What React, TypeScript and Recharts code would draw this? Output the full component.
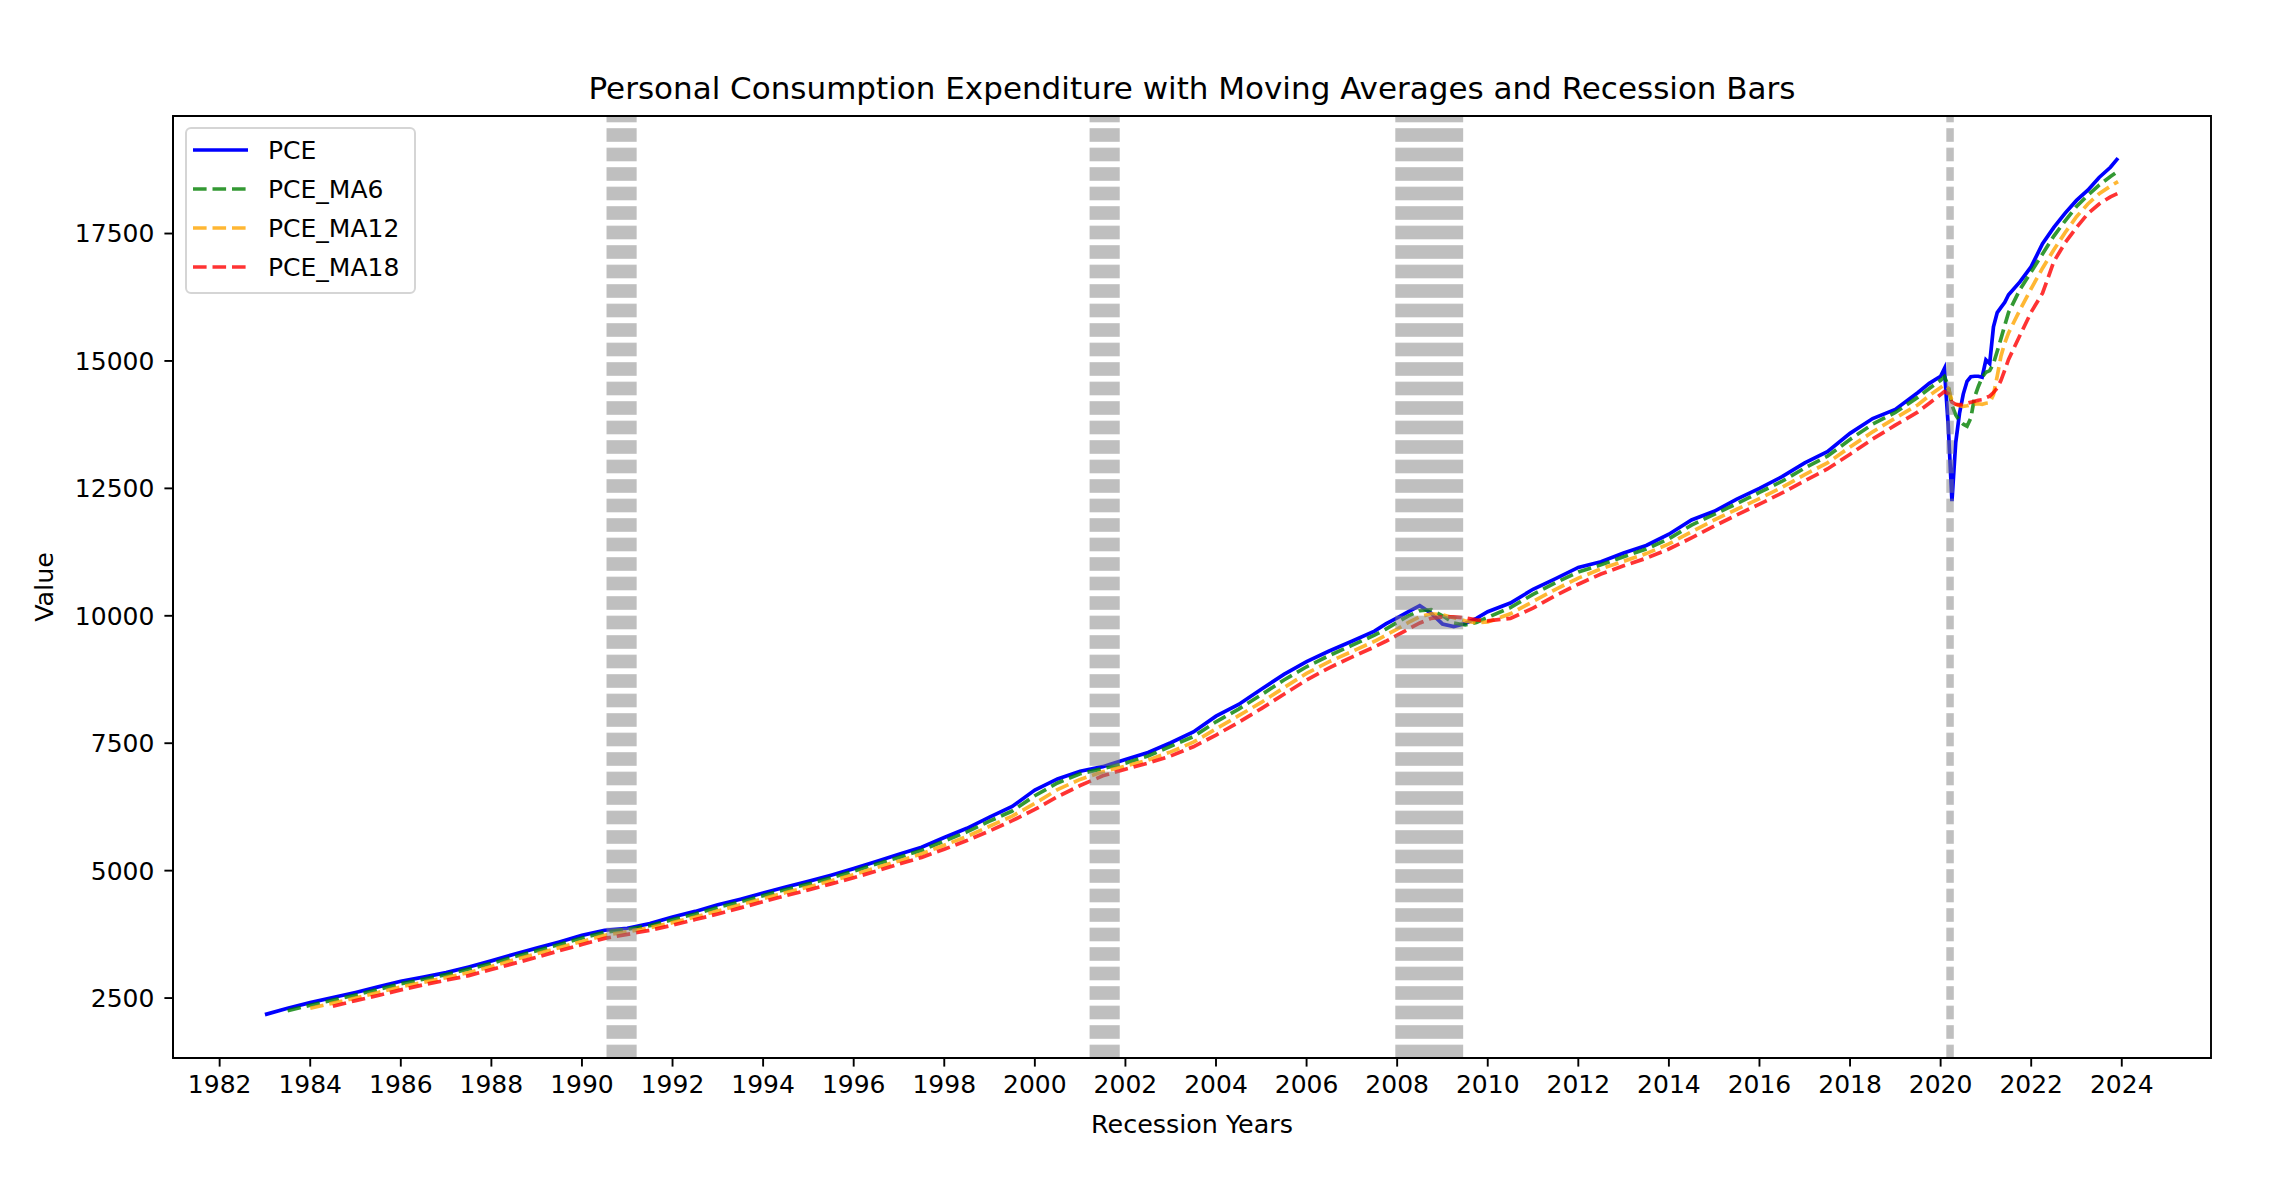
import React from "react";
import { LineChart, Line, XAxis, YAxis, ReferenceArea } from "recharts";

// sample dates (monthly PCE, denser around 2008 and 2020)
const DATES = [
  "1983-01", "1983-07", "1984-01", "1984-07", "1985-01", "1985-07", "1986-01", "1986-07",
  "1987-01", "1987-07", "1988-01", "1988-07", "1989-01", "1989-07", "1990-01", "1990-07",
  "1991-01", "1991-07", "1992-01", "1992-07", "1993-01", "1993-07", "1994-01", "1994-07",
  "1995-01", "1995-07", "1996-01", "1996-07", "1997-01", "1997-07", "1998-01", "1998-07",
  "1999-01", "1999-07", "2000-01", "2000-07", "2001-01", "2001-07", "2002-01", "2002-07",
  "2003-01", "2003-07", "2004-01", "2004-07", "2005-01", "2005-07", "2006-01", "2006-07",
  "2007-01", "2007-07", "2007-10", "2008-01", "2008-04", "2008-07", "2008-10", "2009-01",
  "2009-04", "2009-07", "2009-10", "2010-01", "2010-07", "2011-01", "2011-07", "2012-01",
  "2012-07", "2013-01", "2013-07", "2014-01", "2014-07", "2015-01", "2015-07", "2016-01",
  "2016-07", "2017-01", "2017-07", "2018-01", "2018-07", "2019-01", "2019-07", "2019-10",
  "2020-01", "2020-02", "2020-03", "2020-04", "2020-05", "2020-06", "2020-07", "2020-08",
  "2020-09", "2020-10", "2020-11", "2020-12", "2021-01", "2021-02", "2021-03", "2021-04",
  "2021-05", "2021-06", "2021-07", "2021-10", "2022-01", "2022-04", "2022-07", "2022-10",
  "2023-01", "2023-04", "2023-07", "2023-10", "2023-12",
];

const PCE = [
  2175, 2300, 2410, 2510, 2610, 2720, 2830, 2910,
  3000, 3110, 3230, 3360, 3480, 3600, 3730, 3830,
  3870, 3960, 4090, 4200, 4330, 4440, 4560, 4680,
  4790, 4910, 5040, 5180, 5320, 5460, 5650, 5830,
  6050, 6260, 6580, 6800, 6950, 7040, 7180, 7320,
  7510, 7720, 8030, 8260, 8560, 8850, 9100, 9310,
  9500, 9700, 9840, 9960, 10080, 10200, 10050, 9840,
  9790, 9850, 9950, 10080, 10250, 10520, 10730, 10950,
  11060, 11230, 11380, 11600, 11880, 12050, 12290, 12500,
  12730, 13000, 13220, 13580, 13870, 14050, 14380, 14560,
  14700, 14850, 13750, 12250, 13400, 13970, 14350, 14600,
  14690, 14700, 14700, 14680, 15020, 14950, 15670, 15950,
  16050, 16150, 16300, 16550, 16850, 17300, 17620, 17900,
  18150, 18350, 18600, 18800, 18980,
];

const PCE_MA6 = [
  null, 2250, 2360, 2460, 2560, 2670, 2780, 2870,
  2960, 3070, 3180, 3310, 3430, 3550, 3680, 3790,
  3850, 3920, 4040, 4150, 4280, 4390, 4510, 4630,
  4740, 4860, 4990, 5130, 5260, 5400, 5580, 5760,
  5970, 6170, 6470, 6720, 6900, 7000, 7110, 7250,
  7440, 7630, 7920, 8170, 8450, 8740, 9000, 9220,
  9420, 9620, 9740, 9870, 10000, 10100, 10120, 10000,
  9860, 9820, 9870, 9970, 10160, 10420, 10650, 10860,
  11000, 11160, 11310, 11510, 11780, 11990, 12200, 12420,
  12640, 12900, 13130, 13460, 13760, 13990, 14290, 14460,
  14620, 14690, 14520, 14130, 13940, 13830, 13760, 13720,
  13880, 14290, 14500, 14680, 14780, 14810, 14950, 15190,
  15440, 15700, 15950, 16400, 16750, 17100, 17450, 17750,
  18030, 18250, 18450, 18620, 18720,
];

const PCE_MA12 = [
  null, null, 2300, 2400, 2500, 2610, 2720, 2810,
  2900, 3000, 3120, 3250, 3370, 3490, 3610, 3730,
  3800, 3880, 3980, 4090, 4210, 4330, 4450, 4570,
  4680, 4800, 4920, 5060, 5190, 5330, 5500, 5670,
  5870, 6070, 6320, 6590, 6790, 6940, 7050, 7170,
  7330, 7520, 7780, 8040, 8300, 8590, 8870, 9100,
  9300, 9500, 9620, 9740, 9870, 9980, 10040, 10020,
  9960, 9900, 9860, 9880, 10040, 10280, 10520, 10740,
  10920, 11070, 11220, 11410, 11650, 11880, 12090, 12300,
  12520, 12770, 13000, 13310, 13610, 13880, 14140, 14320,
  14480, 14530, 14470, 14220, 14150, 14120, 14110, 14120,
  14140, 14150, 14160, 14150, 14170, 14180, 14340, 14700,
  15100, 15350, 15550, 16000, 16420, 16820, 17180, 17520,
  17830, 18080, 18280, 18430, 18520,
];

const PCE_MA18 = [
  null, null, null, 2340, 2450, 2550, 2660, 2760,
  2850, 2940, 3060, 3180, 3300, 3430, 3550, 3670,
  3750, 3830, 3930, 4040, 4150, 4270, 4390, 4510,
  4620, 4740, 4860, 4990, 5130, 5260, 5420, 5590,
  5780, 5980, 6200, 6450, 6670, 6860, 6990, 7110,
  7250, 7430, 7660, 7910, 8180, 8460, 8740, 8980,
  9190, 9390, 9500, 9620, 9740, 9860, 9950, 9980,
  9980, 9960, 9920, 9900, 9950, 10150, 10400, 10620,
  10820, 10980, 11130, 11310, 11530, 11760, 11980, 12190,
  12410, 12650, 12880, 13170, 13470, 13740, 14000, 14170,
  14340, 14400, 14360, 14190, 14150, 14140, 14150, 14170,
  14190, 14210, 14230, 14240, 14280, 14310, 14380, 14470,
  14620, 14820, 15030, 15500, 15960, 16330, 16950, 17320,
  17620, 17890, 18080, 18220, 18290,
];

// months flagged as recession
const RECESSION_MONTHS = [
  "1990-08", "1990-09", "1990-10", "1990-11", "1990-12", "1991-01", "1991-02", "1991-03",
  "2001-04", "2001-05", "2001-06", "2001-07", "2001-08", "2001-09", "2001-10", "2001-11",
  "2008-01", "2008-02", "2008-03", "2008-04", "2008-05", "2008-06", "2008-07", "2008-08",
  "2008-09", "2008-10", "2008-11", "2008-12", "2009-01", "2009-02", "2009-03", "2009-04",
  "2009-05", "2009-06",
  "2020-03", "2020-04",
];

const YEAR_TICKS = [
  1982, 1984, 1986, 1988, 1990, 1992, 1994, 1996, 1998, 2000, 2002,
  2004, 2006, 2008, 2010, 2012, 2014, 2016, 2018, 2020, 2022, 2024,
];
const VALUE_TICKS = [2500, 5000, 7500, 10000, 12500, 15000, 17500];

const SERIES = [
  { key: "PCE", color: "#0000ff", dashed: false },
  { key: "PCE_MA6", color: "#008000", dashed: true },
  { key: "PCE_MA12", color: "#ffa500", dashed: true },
  { key: "PCE_MA18", color: "#ff0000", dashed: true },
];

const X_DOMAIN = [1980.97, 2025.97];
const Y_DOMAIN = [1324, 19806];

const FONT = "DejaVu Sans, Verdana, sans-serif";
const LW = 3.7;
const DASH = "13.6 5.9";
const HALF_LINE = 0.041; // half a recession line width, in years

const toYear = (d: string) => {
  const [y, m] = d.split("-").map(Number);
  return y + (m - 1) / 12;
};

const rows = DATES.map((d, i) => ({
  t: toYear(d),
  PCE: PCE[i],
  PCE_MA6: PCE_MA6[i],
  PCE_MA12: PCE_MA12[i],
  PCE_MA18: PCE_MA18[i],
}));

// group consecutive recession months into spans
const recessionSpans: { from: number; to: number }[] = [];
RECESSION_MONTHS.map(toYear).forEach((t) => {
  const last = recessionSpans[recessionSpans.length - 1];
  if (last && t - last.to < 0.1) last.to = t;
  else recessionSpans.push({ from: t, to: t });
});

export default function App() {
  const W = 2281;
  const H = 1178;
  const tickStyle = { fontSize: 25, fill: "#000", fontFamily: FONT };
  return (
    <div style={{ position: "absolute", left: 0, top: 0, width: W, height: H, background: "#fff" }}>
      <svg width={0} height={0} style={{ position: "absolute" }}>
        <defs>
          {/* dashed vertical recession lines, dashes counted up from the axes bottom */}
          <pattern id="recDash" patternUnits="userSpaceOnUse" x={0} y={1058.3} width={20} height={19.5}>
            <rect x={0} y={5.9} width={20} height={13.6} fill="#808080" fillOpacity={0.5} />
          </pattern>
        </defs>
      </svg>
      <LineChart
        width={W}
        height={H}
        data={rows}
        margin={{ top: 116, right: 70, bottom: 60, left: 73 }}
      >
        <XAxis
          dataKey="t"
          type="number"
          domain={X_DOMAIN}
          ticks={YEAR_TICKS}
          interval={0}
          allowDataOverflow
          height={60}
          stroke="#000"
          strokeWidth={1.9}
          tickSize={8.6}
          tickMargin={9}
          tick={tickStyle}
        />
        <YAxis
          type="number"
          domain={Y_DOMAIN}
          ticks={VALUE_TICKS}
          interval={0}
          allowDataOverflow
          width={100}
          stroke="#000"
          strokeWidth={1.9}
          tickSize={8.6}
          tickMargin={10}
          tick={tickStyle}
        />
        {SERIES.map((s) => (
          <Line
            key={s.key}
            type="linear"
            dataKey={s.key}
            stroke={s.color}
            strokeOpacity={s.dashed ? 0.8 : 1}
            strokeWidth={LW}
            strokeDasharray={s.dashed ? DASH : undefined}
            dot={false}
            activeDot={false}
            isAnimationActive={false}
          />
        ))}
        {recessionSpans.map((r) => (
          <ReferenceArea
            key={r.from}
            x1={r.from - HALF_LINE}
            x2={r.to + HALF_LINE}
            y1={Y_DOMAIN[0]}
            y2={Y_DOMAIN[1]}
            fill="url(#recDash)"
            fillOpacity={1}
            stroke="none"
            zIndex={500}
          />
        ))}
        {/* axes frame */}
        <ReferenceArea
          x1={X_DOMAIN[0]}
          x2={X_DOMAIN[1]}
          y1={Y_DOMAIN[0]}
          y2={Y_DOMAIN[1]}
          fill="none"
          stroke="#000"
          strokeWidth={1.9}
          zIndex={600}
        />
      </LineChart>

      <svg
        width={W}
        height={H}
        style={{ position: "absolute", left: 0, top: 0, pointerEvents: "none" }}
        fontFamily={FONT}
      >
        <text x={1192} y={99} textAnchor="middle" fontSize={31} fill="#000">
          Personal Consumption Expenditure with Moving Averages and Recession Bars
        </text>
        <text x={1192} y={1133} textAnchor="middle" fontSize={25.4} fill="#000">
          Recession Years
        </text>
        <text
          x={0}
          y={0}
          transform="translate(53,587) rotate(-90)"
          textAnchor="middle"
          fontSize={25.4}
          fill="#000"
        >
          Value
        </text>

        {/* legend */}
        <rect
          x={186}
          y={128}
          width={229}
          height={165}
          rx={5}
          fill="#fff"
          fillOpacity={0.8}
          stroke="#d5d5d5"
          strokeWidth={2}
        />
        {SERIES.map((s, i) => {
          const y = 150 + i * 39;
          return (
            <g key={s.key}>
              <line
                x1={193}
                x2={248}
                y1={y}
                y2={y}
                stroke={s.color}
                strokeOpacity={s.dashed ? 0.8 : 1}
                strokeWidth={LW}
                strokeDasharray={s.dashed ? DASH : undefined}
              />
              <text x={268} y={y + 9} fontSize={25} fill="#000">
                {s.key}
              </text>
            </g>
          );
        })}
      </svg>
    </div>
  );
}
